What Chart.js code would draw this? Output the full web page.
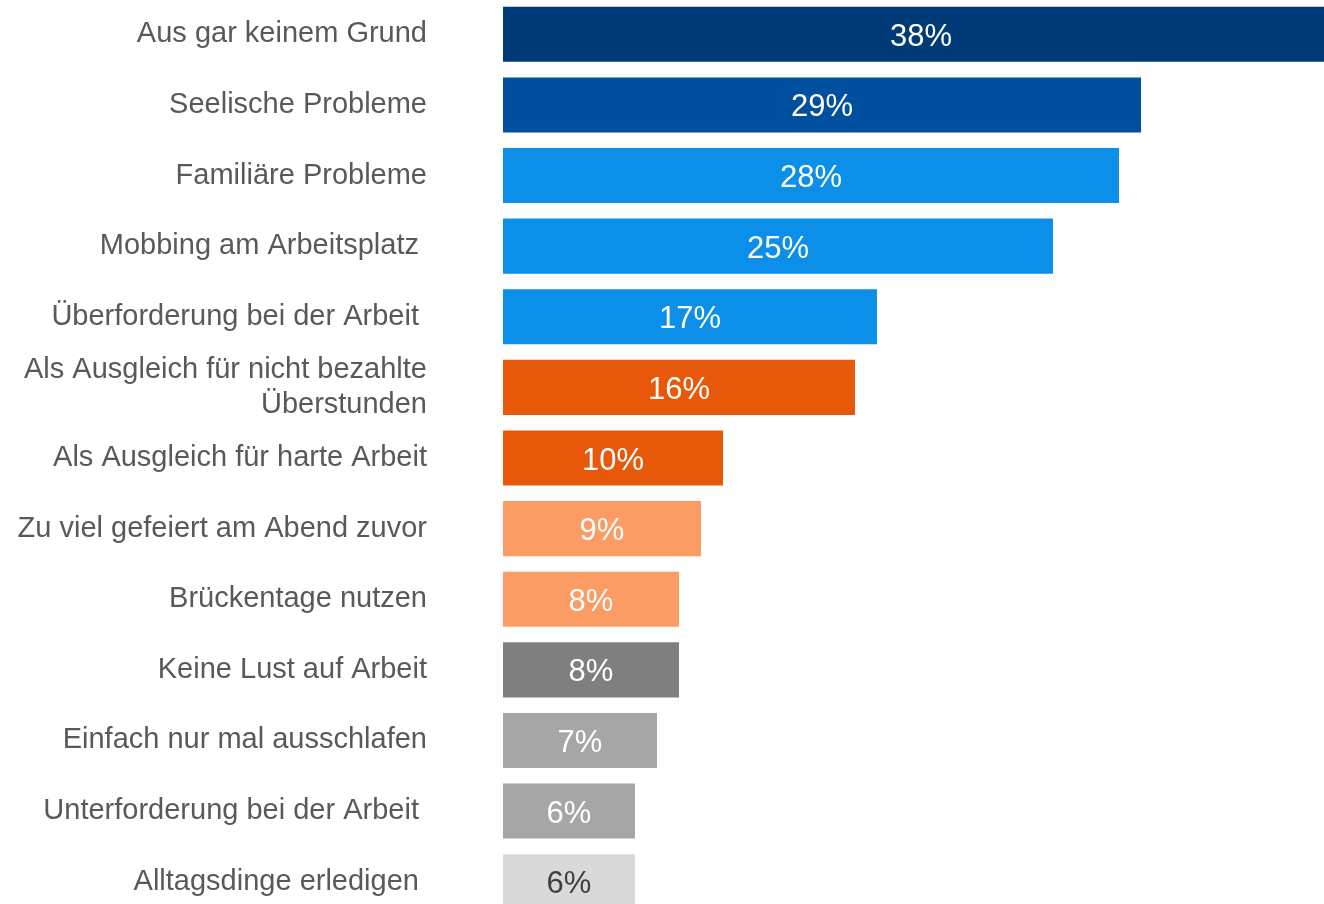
<!DOCTYPE html>
<html>
<head>
<meta charset="utf-8">
<title>Gründe fürs Blaumachen</title>
<script src="https://cdn.jsdelivr.net/npm/chart.js@4.4.1/dist/chart.umd.min.js"></script>
<style>
	html, body { margin: 0; padding: 0; background: #fff; overflow: hidden; }
	/* chart is a bit bigger than the window, the top bar runs out on the right */
	#wrap { position: absolute; left: 0; top: -1px; width: 1339px; height: 918px; }
</style>
</head>
<body>
<div id="wrap"><canvas id="bar-chartcanvas" width="1339" height="918"></canvas></div>
<script>
// categories (reasons) - top to bottom
var categories = [
	"Aus gar keinem Grund",
	"Seelische Probleme",
	"Familiäre Probleme",
	"Mobbing am Arbeitsplatz ",
	"Überforderung bei der Arbeit ",
	["Als Ausgleich für nicht bezahlte", "Überstunden"],
	"Als Ausgleich für harte Arbeit",
	"Zu viel gefeiert am Abend zuvor",
	"Brückentage nutzen",
	"Keine Lust auf Arbeit",
	"Einfach nur mal ausschlafen",
	"Unterforderung bei der Arbeit ",
	"Alltagsdinge erledigen "
];

// share in percent
var values = [38, 29, 28, 25, 17, 16, 10, 9, 8, 8, 7, 6, 6];

// bar colours
var barColors = [
	"#003b77", "#00509f", "#0b8fe8", "#0b8fe8", "#0b8fe8",
	"#e8580a", "#e8580a", "#fa9c64", "#fa9c64",
	"#7f7f7f", "#a6a6a6", "#a6a6a6", "#d9d9d9"
];

// colour of the number inside each bar
var valueColors = [
	"#fff", "#fff", "#fff", "#fff", "#fff", "#fff", "#fff",
	"#fff", "#fff", "#fff", "#fff", "#fff", "#404040"
];

var fontFamily = "'Liberation Sans', Arial, Helvetica, sans-serif";

// draws "38%" etc. in the middle of each bar
var valueLabels = {
	id: "valueLabels",
	afterDatasetsDraw: function(chart) {
		var ctx = chart.ctx;
		var meta = chart.getDatasetMeta(0);
		ctx.save();
		ctx.font = "31px " + fontFamily;
		ctx.textAlign = "center";
		ctx.textBaseline = "middle";
		meta.data.forEach(function(bar, i) {
			var v = chart.data.datasets[0].data[i];
			ctx.fillStyle = valueColors[i];
			ctx.fillText(v + "%", (bar.base + bar.x) / 2, bar.y + 3);
		});
		ctx.restore();
	}
};

var ctx = document.getElementById("bar-chartcanvas");

var chart = new Chart(ctx, {
	type: "bar",
	data: {
		labels: categories,
		datasets: [{
			data: values,
			backgroundColor: barColors,
			borderWidth: 0,
			categoryPercentage: 1,
			barPercentage: 0.78
		}]
	},
	options: {
		indexAxis: "y",
		responsive: false,
		animation: false,
		devicePixelRatio: 1,
		layout: { padding: 0 },
		plugins: {
			legend: { display: false },
			tooltip: { enabled: false }
		},
		scales: {
			x: {
				display: false,
				min: 0,
				max: 38
			},
			y: {
				grid: { display: false, drawTicks: false },
				border: { display: false },
				ticks: {
					autoSkip: false,
					color: "#595959",
					padding: 76,
					font: { family: fontFamily, size: 29 }
				},
				afterFit: function(scale) {
					// left edge of the bars, and no extra room above/below
					scale.width = 503;
					scale.paddingTop = 0;
					scale.paddingBottom = 0;
				}
			}
		}
	},
	plugins: [valueLabels]
});
</script>
</body>
</html>
